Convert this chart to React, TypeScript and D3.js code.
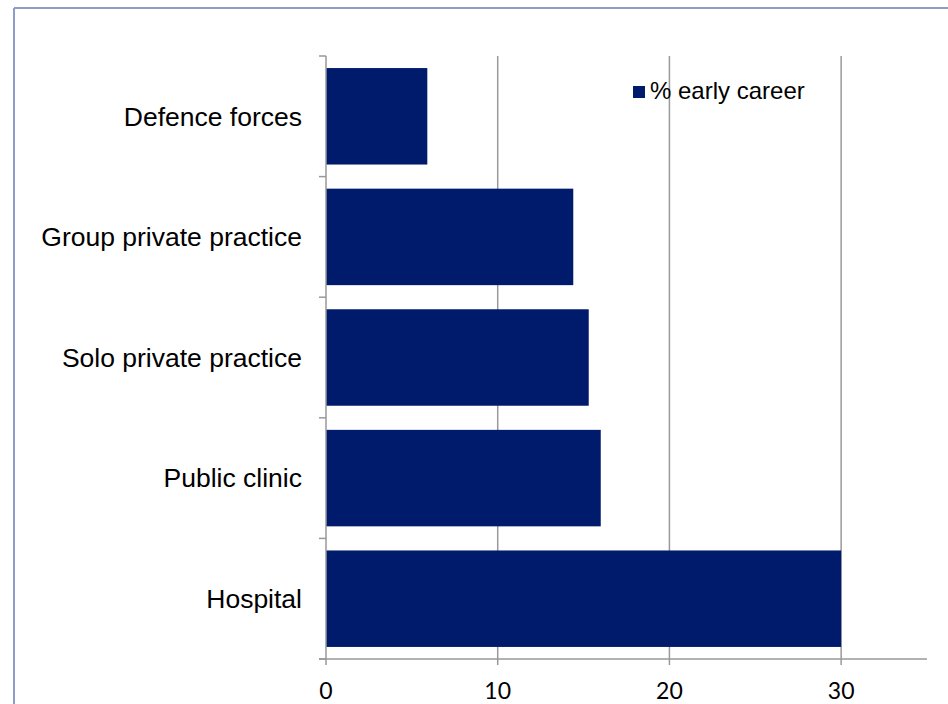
import React from "react";
import * as d3 from "d3";

const categories = ["Defence forces", "Group private practice", "Solo private practice", "Public clinic", "Hospital"];
const values = [5.9, 14.4, 15.3, 16.0, 30.0];
const xTicks = [0, 10, 20, 30];
const seriesName = "% early career";

export default function App() {
  const W = 948, H = 704;
  const left = 326, right = 927, top = 56, bottom = 659;
  const x = d3.scaleLinear().domain([0, 35]).range([left, right]);
  const y = d3.scaleBand().domain(categories).range([top, bottom]).paddingInner(0.2).paddingOuter(0.1);
  const barColor = "#001a6c";
  const grid = "#999999";
  const bounds = d3.range(categories.length + 1).map(i => top + (i * (bottom - top)) / categories.length);
  return (
    <svg width={W} height={H} style={{ position: "absolute", left: 0, top: 0, background: "#fff" }}>
      <rect x={0} y={0} width={W} height={H} fill="#fff" />
      <line x1={14} y1={8} x2={W} y2={8} stroke="#8e9cc8" strokeWidth={2} />
      <line x1={14} y1={8} x2={14} y2={H} stroke="#8e9cc8" strokeWidth={2} />
      {xTicks.filter(t => t > 0).map(t => (
        <line key={"g" + t} x1={x(t)} x2={x(t)} y1={top} y2={bottom + 6} stroke={grid} strokeWidth={1.5} />
      ))}
      {categories.map((c, i) => (
        <rect key={c} x={x(0)} y={y(c)!} width={x(values[i]) - x(0)} height={y.bandwidth()} fill={barColor} />
      ))}
      <line x1={left} x2={left} y1={top} y2={bottom + 6} stroke={grid} strokeWidth={1.5} />
      {bounds.map((b, i) => (
        <line key={"yt" + i} x1={left - 7} x2={left} y1={b} y2={b} stroke={grid} strokeWidth={1.5} />
      ))}
      <line x1={left - 7} x2={right} y1={bottom} y2={bottom} stroke={grid} strokeWidth={1.5} />
      {categories.map(c => (
        <text key={"l" + c} x={302} y={y(c)! + y.bandwidth() / 2} dy="0.35em" textAnchor="end"
          fontFamily="Liberation Sans, Arial, sans-serif" fontSize={26.5} fill="#000">{c}</text>
      ))}
      {xTicks.map(t => (
        <text key={"t" + t} x={x(t)} y={699} textAnchor="middle" fontFamily="Lato, Carlito, sans-serif" fontSize={23} fill="#000">{t}</text>
      ))}
      <rect x={633} y={86} width={12} height={12} fill={barColor} />
      <text x={650} y={99} fontFamily="Liberation Sans, Arial, sans-serif" fontSize={24} fill="#000">{seriesName}</text>
    </svg>
  );
}
